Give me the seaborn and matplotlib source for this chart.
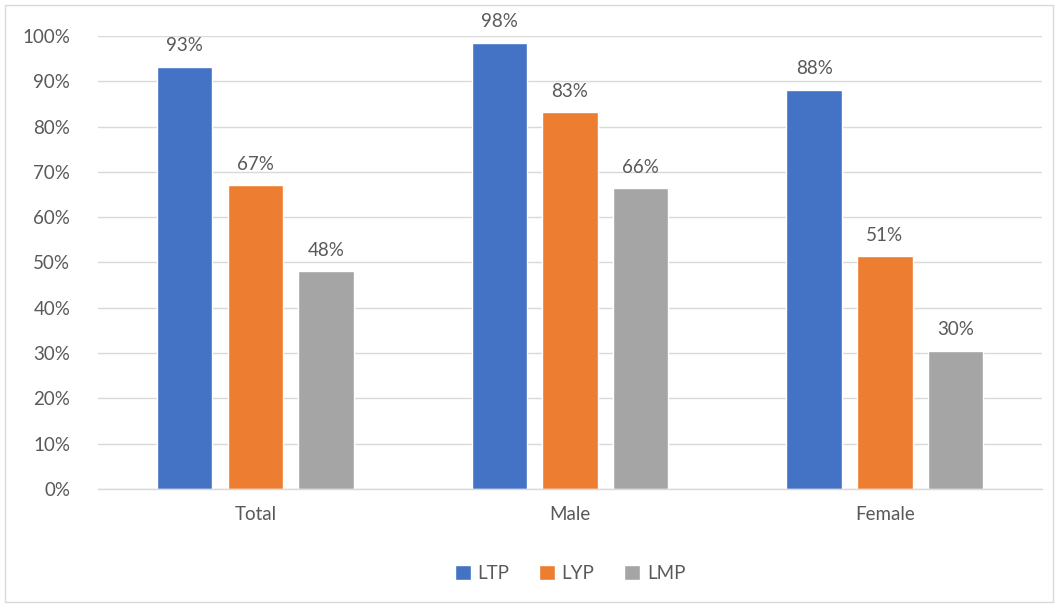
import pandas as pd
import seaborn as sns
from matplotlib import pyplot as plt
from matplotlib.patches import Rectangle

# values
groups = ["Total", "Male", "Female"]
series = ["LTP", "LYP", "LMP"]
ltp = [0.932, 0.985, 0.881]
lyp = [0.671, 0.832, 0.514]
lmp = [0.481, 0.664, 0.305]
colors = ["#4472C4", "#ED7D31", "#A5A5A5"]
y_ticks = [i / 10 for i in range(11)]

df = pd.DataFrame({
    "group": groups * 3,
    "series": ["LTP"] * 3 + ["LYP"] * 3 + ["LMP"] * 3,
    "value": ltp + lyp + lmp,
})

sns.set_style("white")
plt.rcParams["font.family"] = ["Lato", "DejaVu Sans"]
text_color = "#595959"
fs = 13.5

fig = plt.figure(figsize=(10.58, 6.07), dpi=100)
ax = fig.add_axes([0.0926, 0.1944, 0.8924, 0.7463])
sns.barplot(data=df, x="group", y="value", hue="series", hue_order=series,
            order=groups, palette=colors, width=0.673, gap=0.214,
            saturation=1, ax=ax, legend=True)

for container in ax.containers:
    labels = [f"{v * 100:.0f}%" for v in container.datavalues]
    ax.bar_label(container, labels=labels, padding=9, fontsize=fs, color=text_color)

ax.set_xlim(-0.5, 2.5)
ax.set_ylim(0, 1.0)
ax.set_yticks(y_ticks)
ax.set_yticklabels([f"{t * 100:.0f}%" for t in y_ticks])
ax.yaxis.grid(True, color="#D9D9D9", linewidth=1)
ax.set_axisbelow(True)
ax.set_xlabel("")
ax.set_ylabel("")
for s in ["left", "right", "top"]:
    ax.spines[s].set_visible(False)
ax.spines["bottom"].set_color("#D9D9D9")
ax.spines["bottom"].set_linewidth(1)
ax.tick_params(axis="both", length=0, labelsize=fs, colors=text_color)
ax.tick_params(axis="y", pad=20)
ax.tick_params(axis="x", pad=12)

ax.legend(loc="upper center", bbox_to_anchor=(0.5, -0.13), ncol=3, frameon=False,
          fontsize=fs, handlelength=0.85, handleheight=0.85, handletextpad=0.35,
          columnspacing=1.6, labelcolor=text_color)

fig.patches.append(Rectangle((0.005, 0.008), 0.99, 0.984, transform=fig.transFigure,
                             fill=False, edgecolor="#D9D9D9", linewidth=1))

fig.savefig("out.png", dpi=100)
